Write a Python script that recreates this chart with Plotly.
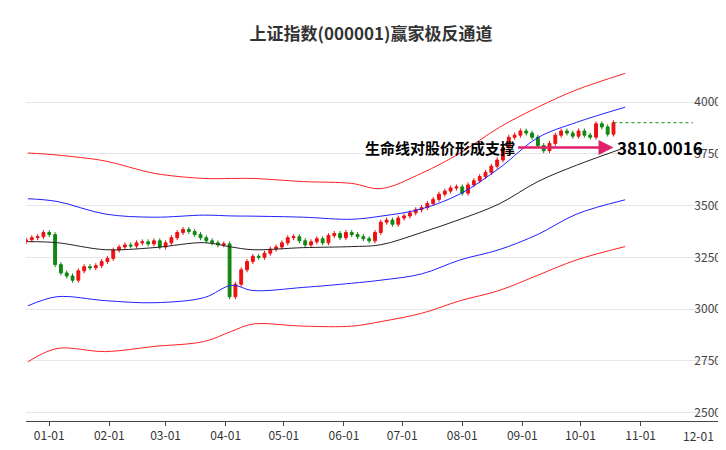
import pandas as pd
import plotly.graph_objects as go

closes = [3335, 3345, 3350, 3370, 3360, 3215, 3175, 3160, 3140, 3185, 3205, 3200, 3210,
          3230, 3245, 3285, 3300, 3310, 3305, 3320, 3325, 3315, 3330, 3300, 3320, 3345,
          3370, 3385, 3375, 3360, 3345, 3330, 3320, 3310, 3315, 3060, 3120, 3190, 3230,
          3255, 3250, 3270, 3290, 3300, 3320, 3345, 3350, 3330, 3310, 3325, 3340, 3320,
          3355, 3365, 3345, 3370, 3360, 3350, 3340, 3330, 3370, 3420, 3430, 3410, 3440,
          3450, 3465, 3480, 3490, 3510, 3530, 3555, 3570, 3585, 3590, 3560, 3600, 3620,
          3640, 3660, 3690, 3720, 3780, 3830, 3840, 3860, 3850, 3830, 3790, 3765, 3800,
          3840, 3860, 3850, 3835, 3860, 3840, 3830, 3895, 3880, 3845, 3900]
dates = pd.date_range("2023-12-20", periods=len(closes), freq="3D")

band_dates = ["2023-12-21", "2024-01-05", "2024-01-30", "2024-02-24", "2024-03-21",
              "2024-04-04", "2024-04-15", "2024-05-11", "2024-06-05", "2024-06-20",
              "2024-07-11", "2024-07-31", "2024-08-20", "2024-09-09", "2024-09-29",
              "2024-10-24"]
life_line = [3326, 3321, 3287, 3297, 3321, 3300, 3287, 3297, 3302, 3311, 3370, 3434,
             3508, 3616, 3695, 3780]
blue_up = [3533, 3520, 3459, 3444, 3454, 3450, 3449, 3444, 3434, 3449, 3484, 3557,
           3680, 3828, 3902, 3975]
blue_low = [3016, 3060, 3041, 3031, 3056, 3115, 3090, 3105, 3125, 3140, 3170, 3238,
            3287, 3361, 3459, 3528]
red_up = [3754, 3744, 3715, 3656, 3631, 3631, 3631, 3616, 3607, 3582, 3656, 3754,
          3877, 3975, 4059, 4138]
red_low = [2746, 2810, 2795, 2820, 2844, 2893, 2928, 2918, 2918, 2940, 2980, 3041,
           3090, 3164, 3238, 3302]
month_ticks = ["2024-01-01", "2024-02-01", "2024-03-01", "2024-04-01", "2024-05-01",
               "2024-06-01", "2024-07-01", "2024-08-01", "2024-09-01", "2024-10-01",
               "2024-11-01", "2024-12-01"]
month_labels = ["01-01", "02-01", "03-01", "04-01", "05-01", "06-01", "07-01",
                "08-01", "09-01", "10-01", "11-01", "12-01"]

opens = [closes[0] - 10] + closes[:-1]
highs = [max(o, c) + 12 for o, c in zip(opens, closes)]
lows = [min(o, c) - 12 for o, c in zip(opens, closes)]

fig = go.Figure()
for vals, col in [(red_up, "#ff2020"), (red_low, "#ff2020"), (blue_up, "#2020ff"),
                  (blue_low, "#2020ff"), (life_line, "#222222")]:
    fig.add_trace(go.Scatter(x=band_dates, y=vals, mode="lines",
                             line={"color": col, "width": 1, "shape": "spline"},
                             showlegend=False, hoverinfo="skip"))

fig.add_trace(go.Candlestick(x=dates, open=opens, high=highs, low=lows, close=closes,
                             increasing={"line": {"color": "#ee1111", "width": 1},
                                         "fillcolor": "#ee1111"},
                             decreasing={"line": {"color": "#118811", "width": 1},
                                         "fillcolor": "#118811"},
                             whiskerwidth=0, showlegend=False))

last_close = closes[-1]
fig.add_trace(go.Scatter(x=[dates[-1], "2024-11-28"], y=[last_close, last_close],
                         mode="lines", line={"color": "#118811", "width": 1, "dash": "dot"},
                         showlegend=False, hoverinfo="skip"))

support_value = 3810.0016
fig.add_annotation(x="2024-10-18", y=3780, ax="2024-08-29", ay=3780,
                   xref="x", yref="y", axref="x", ayref="y", text="",
                   showarrow=True, arrowhead=2, arrowsize=1.2, arrowwidth=2.5,
                   arrowcolor="#e0206a")
fig.add_annotation(x="2024-08-29", y=3780, text="<b>生命线对股价形成支撑</b>", showarrow=False,
                   xanchor="right", font={"size": 15, "color": "black"})
fig.add_annotation(x="2024-10-19", y=3780, text=f"<b>{support_value:.4f}</b>", showarrow=False,
                   xanchor="left", font={"size": 17, "color": "black"})
# plotly hides the last tick label behind the inside y labels, so draw it by hand
fig.add_annotation(x=month_ticks[-1], y=0, xref="x", yref="paper", yshift=-4,
                   yanchor="top", text=month_labels[-1], showarrow=False,
                   font={"size": 12, "color": "#333"})

fig.update_layout(
    width=726, height=450,
    margin={"l": 18, "r": 10, "t": 35, "b": 37},
    paper_bgcolor="white", plot_bgcolor="white",
    font={"family": "Noto Sans CJK SC", "size": 12, "color": "#333"},
    title={"text": "<b>上证指数(000001)赢家极反通道</b>", "x": 0.5, "y": 0.955,
           "font": {"size": 17, "color": "#333"}},
    xaxis={"type": "date", "range": ["2023-12-20", "2024-12-14"],
           "rangeslider": {"visible": False}, "tickvals": month_ticks[:-1],
           "ticktext": month_labels[:-1], "showgrid": False,
           "showline": True, "linecolor": "#444", "ticks": "outside", "ticklen": 4},
    yaxis={"side": "right", "range": [2460, 4285], "tickvals": [2500, 2750, 3000, 3250, 3500, 3750, 4000],
           "ticklabelposition": "inside", "gridcolor": "#e6e6e6", "zeroline": False},
)

fig.write_html("out.html")
